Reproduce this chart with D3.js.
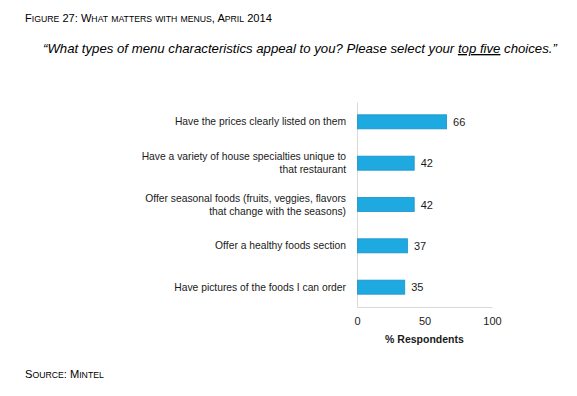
<!DOCTYPE html>
<html>
<head>
<meta charset="utf-8">
<script src="https://cdn.jsdelivr.net/npm/d3@7"></script>
<style>
  body { margin: 0; background: #fff; }
  text { font-family: "Liberation Sans", Arial, sans-serif; }
</style>
</head>
<body>
<div id="chart"></div>
<script>
// Chart data
const categories = [
    'Have the prices clearly listed on them',
    'Have a variety of house specialties unique to\nthat restaurant',
    'Offer seasonal foods (fruits, veggies, flavors\nthat change with the seasons)',
    'Offer a healthy foods section',
    'Have pictures of the foods I can order'
];
const values = [66, 42, 42, 37, 35];
const xTicks = [0, 50, 100];

const data = categories.map((c, i) => ({ label: c, value: values[i] }));

const width = 577;
const height = 396;

const svg = d3.select('#chart').append('svg')
    .attr('width', width)
    .attr('height', height);

// Small caps by hand: capitals at full size, lower case as smaller capitals
function smallCaps(sel, str, big, small) {
    const runs = str.match(/[a-z]+|[^a-z]+/g);
    runs.forEach(r => {
        const lower = /^[a-z]+$/.test(r);
        sel.append('tspan')
            .attr('font-size', lower ? small : big)
            .text(r.toUpperCase());
    });
}

// Titles
smallCaps(svg.append('text').attr('x', 25).attr('y', 22).attr('fill', '#000'),
    'Figure 27: What matters with menus, April 2014', 11.1, 8.7);

const sub = svg.append('text')
    .attr('x', 43)
    .attr('y', 53)
    .attr('font-size', 13.2)
    .attr('font-style', 'italic')
    .attr('fill', '#000');
sub.append('tspan').text('\u201CWhat types of menu characteristics appeal to you? Please select your ');
sub.append('tspan').attr('text-decoration', 'underline').text('top five');
sub.append('tspan').text(' choices.\u201D');

smallCaps(svg.append('text').attr('x', 25).attr('y', 378).attr('fill', '#000'),
    'Source: Mintel', 11.1, 8.7);

// Scales
const xScale = d3.scaleLinear()
    .domain([0, 100])
    .range([357, 492]);

const yScale = d3.scaleBand()
    .domain(categories)
    .range([102, 307])
    .paddingInner(0.66)
    .paddingOuter(0.31);

// Axes
const xAxis = d3.axisBottom(xScale).tickValues(xTicks).tickSize(0).tickPadding(10);
const xAxisGroup = svg.append('g')
    .attr('class', 'axis x-axis')
    .attr('transform', `translate(0,${yScale.range()[1]})`)
    .call(xAxis);
xAxisGroup.select('.domain').attr('stroke', '#d9d9d9');
xAxisGroup.selectAll('text')
    .attr('font-size', 11)
    .attr('fill', '#222')
    .style('font-family', '"Liberation Sans", Arial, sans-serif');

const yAxisGroup = svg.append('g')
    .attr('class', 'axis y-axis')
    .attr('transform', `translate(${xScale(0)},0)`)
    .call(d3.axisLeft(yScale).tickSize(0).tickFormat(''));
yAxisGroup.select('.domain').attr('stroke', '#d9d9d9');

// Category labels (multi-line)
const labels = svg.append('g').selectAll('text')
    .data(data)
    .enter()
    .append('text')
    .attr('text-anchor', 'end')
    .attr('font-size', 10.3)
    .attr('fill', '#1a1a1a')
    .attr('x', xScale(0) - 11)
    .attr('y', d => yScale(d.label) + yScale.bandwidth() / 2);

labels.each(function(d) {
    const lines = d.label.split('\n');
    const lh = 13;
    const el = d3.select(this);
    lines.forEach((line, i) => {
        el.append('tspan')
            .attr('x', xScale(0) - 11)
            .attr('dy', i === 0 ? (-(lines.length - 1) * lh / 2 + 3.5) : lh)
            .text(line);
    });
});

// Bars
svg.append('g').selectAll('rect')
    .data(data)
    .enter()
    .append('rect')
    .attr('fill', '#1fa9e1')
    .attr('stroke', '#1b93c8')
    .attr('stroke-width', 0.8)
    .attr('x', xScale(0) + 0.5)
    .attr('y', d => yScale(d.label))
    .attr('width', d => xScale(d.value) - xScale(0))
    .attr('height', yScale.bandwidth());

// Value labels
svg.append('g').selectAll('text')
    .data(data)
    .enter()
    .append('text')
    .attr('font-size', 11)
    .attr('fill', '#1a1a1a')
    .attr('x', d => xScale(d.value) + 7)
    .attr('y', d => yScale(d.label) + yScale.bandwidth() / 2 + 4)
    .text(d => d.value);

// Axis title
svg.append('text')
    .attr('text-anchor', 'middle')
    .attr('font-size', 10.5)
    .attr('font-weight', 'bold')
    .attr('fill', '#1a1a1a')
    .attr('x', (xScale(0) + xScale(100)) / 2)
    .attr('y', 343)
    .text('% Respondents');
</script>
</body>
</html>
